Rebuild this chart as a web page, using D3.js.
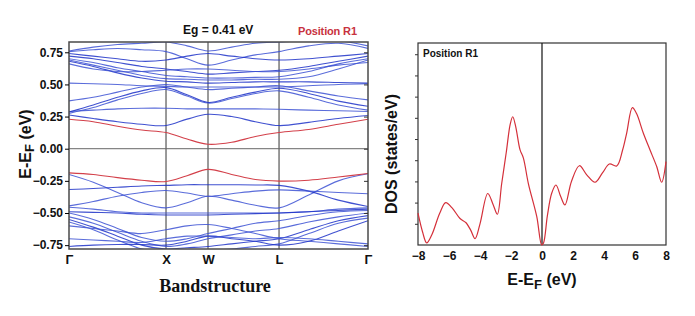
<!DOCTYPE html>
<html>
<head>
<meta charset="utf-8">
<script src="https://cdn.jsdelivr.net/npm/d3@7"></script>
<style>
  body { margin: 0; background: #fff; }
  text { font-family: Arial, "Liberation Sans", sans-serif; }
</style>
</head>
<body>
<div id="chart"></div>
<script>
// high symmetry points
const kLabels = ['Γ', 'X', 'W', 'L', 'Γ'];
const kTicks = [0, 1, 1.433, 2.165, 3.082];
// k grid the band energies are sampled on
const kGrid = [0, 0.25, 0.5, 0.75, 1, 1.217, 1.433, 1.677, 1.921, 2.165, 2.471, 2.776, 3.082];

// bands (eV) on kGrid
const cbRed = [0.229, 0.21, 0.175, 0.145, 0.126, 0.075, 0.035, 0.05, 0.095, 0.126, 0.15, 0.19, 0.229];
const vbRed = [-0.188, -0.20, -0.225, -0.245, -0.255, -0.21, -0.161, -0.20, -0.24, -0.252, -0.245, -0.22, -0.193];
const cbBands = [
    [0.262, 0.235, 0.21, 0.19, 0.18, 0.23, 0.268, 0.25, 0.21, 0.18, 0.205, 0.235, 0.258],
    [0.29, 0.30, 0.31, 0.315, 0.315, 0.31, 0.31, 0.31, 0.31, 0.307, 0.30, 0.295, 0.29],
    [0.275, 0.32, 0.38, 0.43, 0.46, 0.41, 0.355, 0.39, 0.43, 0.45, 0.40, 0.34, 0.30],
    [0.285, 0.34, 0.40, 0.45, 0.475, 0.42, 0.36, 0.40, 0.44, 0.47, 0.43, 0.37, 0.33],
    [0.372, 0.40, 0.44, 0.48, 0.50, 0.48, 0.46, 0.47, 0.48, 0.49, 0.45, 0.41, 0.38],
    [0.51, 0.505, 0.50, 0.49, 0.485, 0.48, 0.48, 0.48, 0.48, 0.48, 0.49, 0.50, 0.505],
    [0.68, 0.64, 0.59, 0.55, 0.525, 0.52, 0.51, 0.515, 0.52, 0.52, 0.52, 0.515, 0.51],
    [0.69, 0.65, 0.61, 0.57, 0.545, 0.54, 0.535, 0.535, 0.54, 0.54, 0.56, 0.62, 0.69],
    [0.70, 0.67, 0.63, 0.60, 0.57, 0.56, 0.55, 0.55, 0.555, 0.56, 0.60, 0.66, 0.70],
    [0.72, 0.70, 0.67, 0.64, 0.62, 0.60, 0.58, 0.59, 0.60, 0.61, 0.64, 0.68, 0.72],
    [0.755, 0.77, 0.78, 0.77, 0.755, 0.70, 0.65, 0.69, 0.73, 0.755, 0.80, 0.82, 0.78],
    [0.76, 0.79, 0.81, 0.82, 0.83, 0.80, 0.76, 0.79, 0.82, 0.83, 0.84, 0.84, 0.80],
    [0.74, 0.72, 0.70, 0.68, 0.69, 0.72, 0.74, 0.72, 0.70, 0.69, 0.70, 0.72, 0.74],
    [0.66, 0.62, 0.60, 0.60, 0.61, 0.62, 0.62, 0.61, 0.60, 0.60, 0.62, 0.65, 0.67]
];
const vbBands = [
    [-0.20, -0.26, -0.34, -0.42, -0.46, -0.42, -0.37, -0.40, -0.44, -0.46, -0.36, -0.25, -0.195],
    [-0.317, -0.31, -0.30, -0.29, -0.285, -0.28, -0.28, -0.28, -0.282, -0.285, -0.33, -0.40, -0.45],
    [-0.445, -0.41, -0.37, -0.34, -0.325, -0.345, -0.37, -0.35, -0.33, -0.32, -0.33, -0.34, -0.35],
    [-0.455, -0.47, -0.49, -0.50, -0.50, -0.50, -0.50, -0.50, -0.50, -0.50, -0.49, -0.47, -0.46],
    [-0.49, -0.495, -0.50, -0.51, -0.515, -0.515, -0.515, -0.51, -0.505, -0.50, -0.49, -0.48, -0.47],
    [-0.50, -0.55, -0.62, -0.69, -0.72, -0.70, -0.66, -0.62, -0.58, -0.56, -0.52, -0.49, -0.48],
    [-0.53, -0.58, -0.65, -0.72, -0.76, -0.74, -0.70, -0.67, -0.64, -0.62, -0.57, -0.53, -0.50],
    [-0.55, -0.61, -0.68, -0.75, -0.78, -0.77, -0.76, -0.74, -0.72, -0.70, -0.63, -0.56, -0.52],
    [-0.57, -0.63, -0.71, -0.78, -0.80, -0.80, -0.79, -0.78, -0.76, -0.74, -0.66, -0.58, -0.54],
    [-0.60, -0.62, -0.64, -0.66, -0.63, -0.60, -0.59, -0.62, -0.66, -0.70, -0.72, -0.74, -0.76],
    [-0.76, -0.75, -0.745, -0.745, -0.75, -0.72, -0.68, -0.70, -0.72, -0.75, -0.72, -0.64, -0.56],
    [-0.70, -0.71, -0.72, -0.73, -0.70, -0.68, -0.68, -0.69, -0.70, -0.69, -0.70, -0.72, -0.74]
];
const bandYTicks = [0.75, 0.5, 0.25, 0, -0.25, -0.5, -0.75];

// density of states
const dosE = [-8, -7.7, -7.44, -7.1, -6.6, -6.21, -5.8, -5.29, -4.9, -4.6, -4.32, -4.0, -3.5, -3.15, -2.88,
    -2.6, -2.3, -2.05, -1.89, -1.7, -1.42, -1.2, -0.88, -0.34, -0.02, 0.1, 0.35, 0.63, 0.9, 1.2, 1.48,
    1.9, 2.41, 2.9, 3.42, 3.9, 4.35, 4.82, 5.2, 5.46, 5.83, 6.1, 6.54, 6.97, 7.4, 7.72, 8];
const dosV = [1.5, 0.6, 0.1, 0.5, 1.5, 2.0, 1.75, 1.25, 1.05, 0.7, 0.3, 1.0, 2.43, 1.9, 1.45,
    2.9, 4.4, 5.7, 6.05, 5.6, 4.5, 4.1, 2.9, 1.35, 0, 0.1, 1.4, 2.45, 2.83, 2.3, 1.89,
    3.0, 3.74, 3.3, 2.96, 3.4, 3.82, 3.73, 4.48, 5.27, 6.48, 6.2, 5.27, 4.48, 3.7, 2.96, 3.93];
const dosXTicks = [-8, -6, -4, -2, 0, 2, 4, 6, 8];
const dosYTicks = [1, 2, 3, 4, 5, 6, 7, 8, 9];

const svg = d3.select('#chart')
    .append('svg')
        .attr('width', 695)
        .attr('height', 316);

// ---------- band structure ----------
const band = { left: 69, right: 368, top: 42, bottom: 249 };

const xBand = d3.scaleLinear()
    .domain([0, kTicks[kTicks.length - 1]])
    .range([band.left, band.right]);
const yBand = d3.scaleLinear()
    .domain([-0.78, 0.83])
    .range([band.bottom, band.top]);

svg.append('clipPath')
        .attr('id', 'bandclip')
    .append('rect')
        .attr('x', band.left)
        .attr('y', band.top)
        .attr('width', band.right - band.left)
        .attr('height', band.bottom - band.top);

// symmetry point lines
svg.selectAll('.kline')
    .data(kTicks.slice(1, -1))
    .enter()
    .append('line')
        .attr('x1', d => xBand(d))
        .attr('x2', d => xBand(d))
        .attr('y1', band.top)
        .attr('y2', band.bottom)
        .attr('stroke', (d, i) => i === 1 ? '#9a9a9a' : '#555')
        .attr('stroke-width', (d, i) => i === 1 ? 2 : 1.2);

// zero line
svg.append('line')
    .attr('x1', band.left).attr('x2', band.right)
    .attr('y1', yBand(0)).attr('y2', yBand(0))
    .attr('stroke', '#666').attr('stroke-width', 1);

const bandLine = d3.line()
    .x((d, i) => xBand(kGrid[i]))
    .y(d => yBand(d))
    .curve(d3.curveCatmullRom.alpha(0.5));

const bandG = svg.append('g').attr('clip-path', 'url(#bandclip)');

bandG.selectAll('.blue')
    .data(cbBands.concat(vbBands))
    .enter()
    .append('path')
        .attr('d', bandLine)
        .attr('fill', 'none')
        .attr('stroke', (d, i) => i % 3 === 0 ? '#1f33c8' : '#3d52d4')
        .attr('stroke-opacity', 0.85)
        .attr('stroke-width', 1.1);

bandG.selectAll('.red')
    .data([cbRed, vbRed])
    .enter()
    .append('path')
        .attr('d', bandLine)
        .attr('fill', 'none')
        .attr('stroke', '#d3404a')
        .attr('stroke-width', 1.1);

// frame
svg.append('rect')
    .attr('x', band.left).attr('y', band.top)
    .attr('width', band.right - band.left)
    .attr('height', band.bottom - band.top)
    .attr('fill', 'none')
    .attr('stroke', '#4a4a4a')
    .attr('stroke-width', 1.5);

const yAxisBand = d3.axisLeft(yBand)
    .tickValues(bandYTicks)
    .tickFormat(d3.format('.2f'))
    .tickSize(4)
    .tickPadding(2);
svg.append('g')
        .attr('transform', `translate(${band.left}, 0)`)
    .call(yAxisBand)
    .call(g => g.select('.domain').remove())
    .selectAll('text')
        .attr('font-size', 12)
        .attr('font-weight', 'bold')
        .attr('fill', '#111');

// inner ticks on right side
svg.append('g')
        .attr('transform', `translate(${band.right}, 0)`)
    .call(d3.axisLeft(yBand).tickValues(bandYTicks).tickSize(4).tickFormat(''))
    .call(g => g.select('.domain').remove())
    .selectAll('line').attr('stroke', '#333');

const xAxisBand = d3.axisBottom(xBand)
    .tickValues(kTicks)
    .tickFormat((d, i) => kLabels[i])
    .tickSize(0)
    .tickPadding(6);
svg.append('g')
        .attr('transform', `translate(0, ${band.bottom})`)
    .call(xAxisBand)
    .call(g => g.select('.domain').remove())
    .selectAll('text')
        .attr('font-size', 13)
        .attr('font-weight', 'bold')
        .attr('fill', '#111');

svg.append('text')
    .attr('transform', `translate(27, 144) rotate(-90)`)
    .attr('text-anchor', 'middle')
    .attr('dominant-baseline', 'middle')
    .attr('font-size', 16)
    .attr('font-weight', 'bold')
    .attr('fill', '#111')
    .call(t => {
        t.append('tspan').text('E-E');
        t.append('tspan').attr('font-size', 13).attr('dy', 4).text('F');
        t.append('tspan').attr('dy', -4).text(' (eV)');
    });

svg.append('text')
    .attr('x', 183).attr('y', 34)
    .attr('font-size', 12)
    .attr('font-weight', 'bold')
    .attr('fill', '#111')
    .text('Eg = 0.41 eV');

svg.append('text')
    .attr('x', 298).attr('y', 35)
    .attr('font-size', 11)
    .attr('font-weight', 'bold')
    .attr('fill', '#c8323e')
    .attr('textLength', 59)
    .text('Position R1');

svg.append('text')
    .attr('x', 215).attr('y', 292)
    .attr('text-anchor', 'middle')
    .style('font-family', '"Liberation Serif", "Times New Roman", serif')
    .attr('font-size', 18)
    .attr('font-weight', 'bold')
    .attr('fill', '#111')
    .text('Bandstructure');

// ---------- DOS ----------
const dos = { left: 418, right: 666, top: 43, bottom: 245 };

const xDos = d3.scaleLinear()
    .domain([-8, 8])
    .range([dos.left, dos.right]);
const yDos = d3.scaleLinear()
    .domain([0, 9.53])
    .range([dos.bottom, dos.top]);

svg.append('rect')
    .attr('x', dos.left).attr('y', dos.top)
    .attr('width', dos.right - dos.left)
    .attr('height', dos.bottom - dos.top)
    .attr('fill', 'none')
    .attr('stroke', '#333')
    .attr('stroke-width', 1.2);

svg.append('line')
    .attr('x1', xDos(0)).attr('x2', xDos(0))
    .attr('y1', dos.top).attr('y2', dos.bottom)
    .attr('stroke', '#111')
    .attr('stroke-width', 1.2);

svg.append('g')
        .attr('transform', `translate(${dos.left}, 0)`)
    .call(d3.axisLeft(yDos).tickValues(dosYTicks).tickSize(3).tickFormat(''))
    .call(g => g.select('.domain').remove())
    .selectAll('line').attr('stroke', '#333');

svg.append('g')
        .attr('transform', `translate(0, ${dos.bottom})`)
    .call(d3.axisBottom(xDos).tickValues(dosXTicks).tickSize(0).tickPadding(6))
    .call(g => g.select('.domain').remove())
    .selectAll('text')
        .attr('font-size', 12)
        .attr('font-weight', 'bold')
        .attr('fill', '#111');

const dosLine = d3.line()
    .x((d, i) => xDos(dosE[i]))
    .y(d => yDos(d))
    .curve(d3.curveCatmullRom.alpha(0.5));

svg.append('path')
    .datum(dosV)
    .attr('d', dosLine)
    .attr('fill', 'none')
    .attr('stroke', '#d4303a')
    .attr('stroke-width', 1.2);

svg.append('text')
    .attr('x', 423).attr('y', 57)
    .attr('font-size', 10)
    .attr('font-weight', 'bold')
    .attr('fill', '#111')
    .text('Position R1');

svg.append('text')
    .attr('transform', `translate(393, 154) rotate(-90)`)
    .attr('text-anchor', 'middle')
    .attr('dominant-baseline', 'middle')
    .attr('font-size', 16)
    .attr('font-weight', 'bold')
    .attr('fill', '#111')
    .text('DOS (states/eV)');

svg.append('text')
    .attr('x', 542).attr('y', 285)
    .attr('text-anchor', 'middle')
    .attr('font-size', 16)
    .attr('font-weight', 'bold')
    .attr('fill', '#111')
    .call(t => {
        t.append('tspan').text('E-E');
        t.append('tspan').attr('font-size', 13).attr('dy', 4).text('F');
        t.append('tspan').attr('dy', -4).text(' (eV)');
    });
</script>
</body>
</html>
